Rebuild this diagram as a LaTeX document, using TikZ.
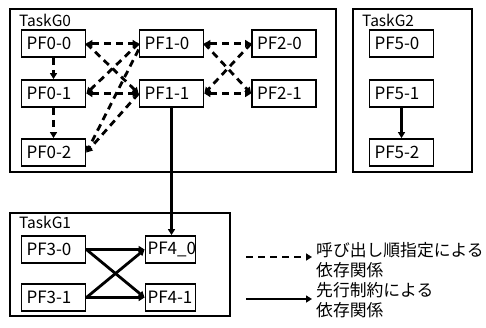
\documentclass[tikz,border=0pt]{standalone}
\usepackage{fontspec}
\setmainfont{Noto Sans CJK JP}
\usetikzlibrary{arrows.meta}
\exhyphenpenalty=10000
\hyphenpenalty=10000

\begin{document}
\begin{tikzpicture}[x=1pt,y=-1pt,>={Triangle[length=6pt,width=7pt]},
  pf/.style={draw,line width=1.8pt,minimum height=27pt,text width=#1,inner xsep=5pt,align=left,font=\fontsize{17}{19}\selectfont},
  pf/.default=54pt,
  grp/.style={line width=1.8pt},
  grplabel/.style={anchor=base west,inner sep=0pt,font=\fontsize{15.5}{19}\selectfont},
  call/.style={line width=2.8pt,dash pattern=on 7pt off 5pt,->},
  prec/.style={line width=2.8pt,->},
  legend/.style={anchor=west,align=left,inner sep=0pt,font=\fontsize{16.8}{20}\selectfont}]
\useasboundingbox (0,0) rectangle (486,327);
% task groups
\draw[grp] (10,9) rectangle (336,172); \node[grplabel] (g0) at (19,26) {TaskG0};
\draw[grp] (353,9) rectangle (472,172); \node[grplabel] (g2) at (362,26) {TaskG2};
\draw[grp] (10,213) rectangle (230,316); \node[grplabel] (g1) at (19,228) {TaskG1};
% TaskG0
\node[pf] (p00) at (53.5,43.5) {PF0-0};
\node[pf] (p01) at (53.5,93.5) {PF0-1};
\node[pf] (p02) at (53.5,152.5) {PF0-2};
\node[pf] (p10) at (171.5,43.5) {PF1-0};
\node[pf] (p11) at (171.5,93.5) {PF1-1};
\node[pf] (p20) at (284,43.5) {PF2-0};
\node[pf] (p21) at (284,93.5) {PF2-1};
% TaskG2
\node[pf] (p50) at (401.5,43.5) {PF5-0};
\node[pf] (p51) at (401.5,93.5) {PF5-1};
\node[pf] (p52) at (401.5,152.5) {PF5-2};
% TaskG1
\node[pf] (p30) at (53.5,249.5) {PF3-0};
\node[pf] (p31) at (53.5,297.5) {PF3-1};
\node[pf=46pt,inner xsep=2pt] (p40) at (170.5,249.5) {PF4\_0};
\node[pf=46pt,inner xsep=2pt] (p41) at (170.5,297.5) {PF4-1};
% call order dependencies
\draw[call] (p00.south) -- (p01.north);
\draw[call] (p01.south) -- (p02.north);
\draw[call,<->] (p00.east) -- (p10.west);
\draw[call,<->] (p01.east) -- (p11.west);
\draw[call] (p00.east) -- (p11.west);
\draw[call] (p10.west) -- (p01.east);
\draw[call] ([yshift=-6pt]p10.west) -- (p02.east);
\draw[call] (p11.west) -- (p02.east);
\draw[call,<->] (p10.east) -- (p20.west);
\draw[call,<->] (p11.east) -- (p21.west);
\draw[call] (p10.east) -- (p21.west);
\draw[call] (p20.west) -- (p11.east);
% precedence dependencies
\draw[prec] (p11.south) -- (p11.south |- p40.north);
\draw[prec] (p51.south) -- (p52.north);
\draw[prec] (p30.east) -- (p40.west);
\draw[prec] (p30.east) -- (p41.west);
\draw[prec] (p31.east) -- (p40.west);
\draw[prec] (p31.east) -- (p41.west);
% legend
\coordinate (lc0) at (246,257); \coordinate (lc1) at (312,257);
\coordinate (lp0) at (246,299); \coordinate (lp1) at (312,299);
\draw[call] (lc0) -- (lc1);
\draw[prec] (lp0) -- (lp1);
\node[legend] (lt0) at (316,260) {呼び出し順指定による\\依存関係};
\node[legend] (lt1) at (316,300) {先行制約による\\依存関係};
\end{tikzpicture}
\end{document}
